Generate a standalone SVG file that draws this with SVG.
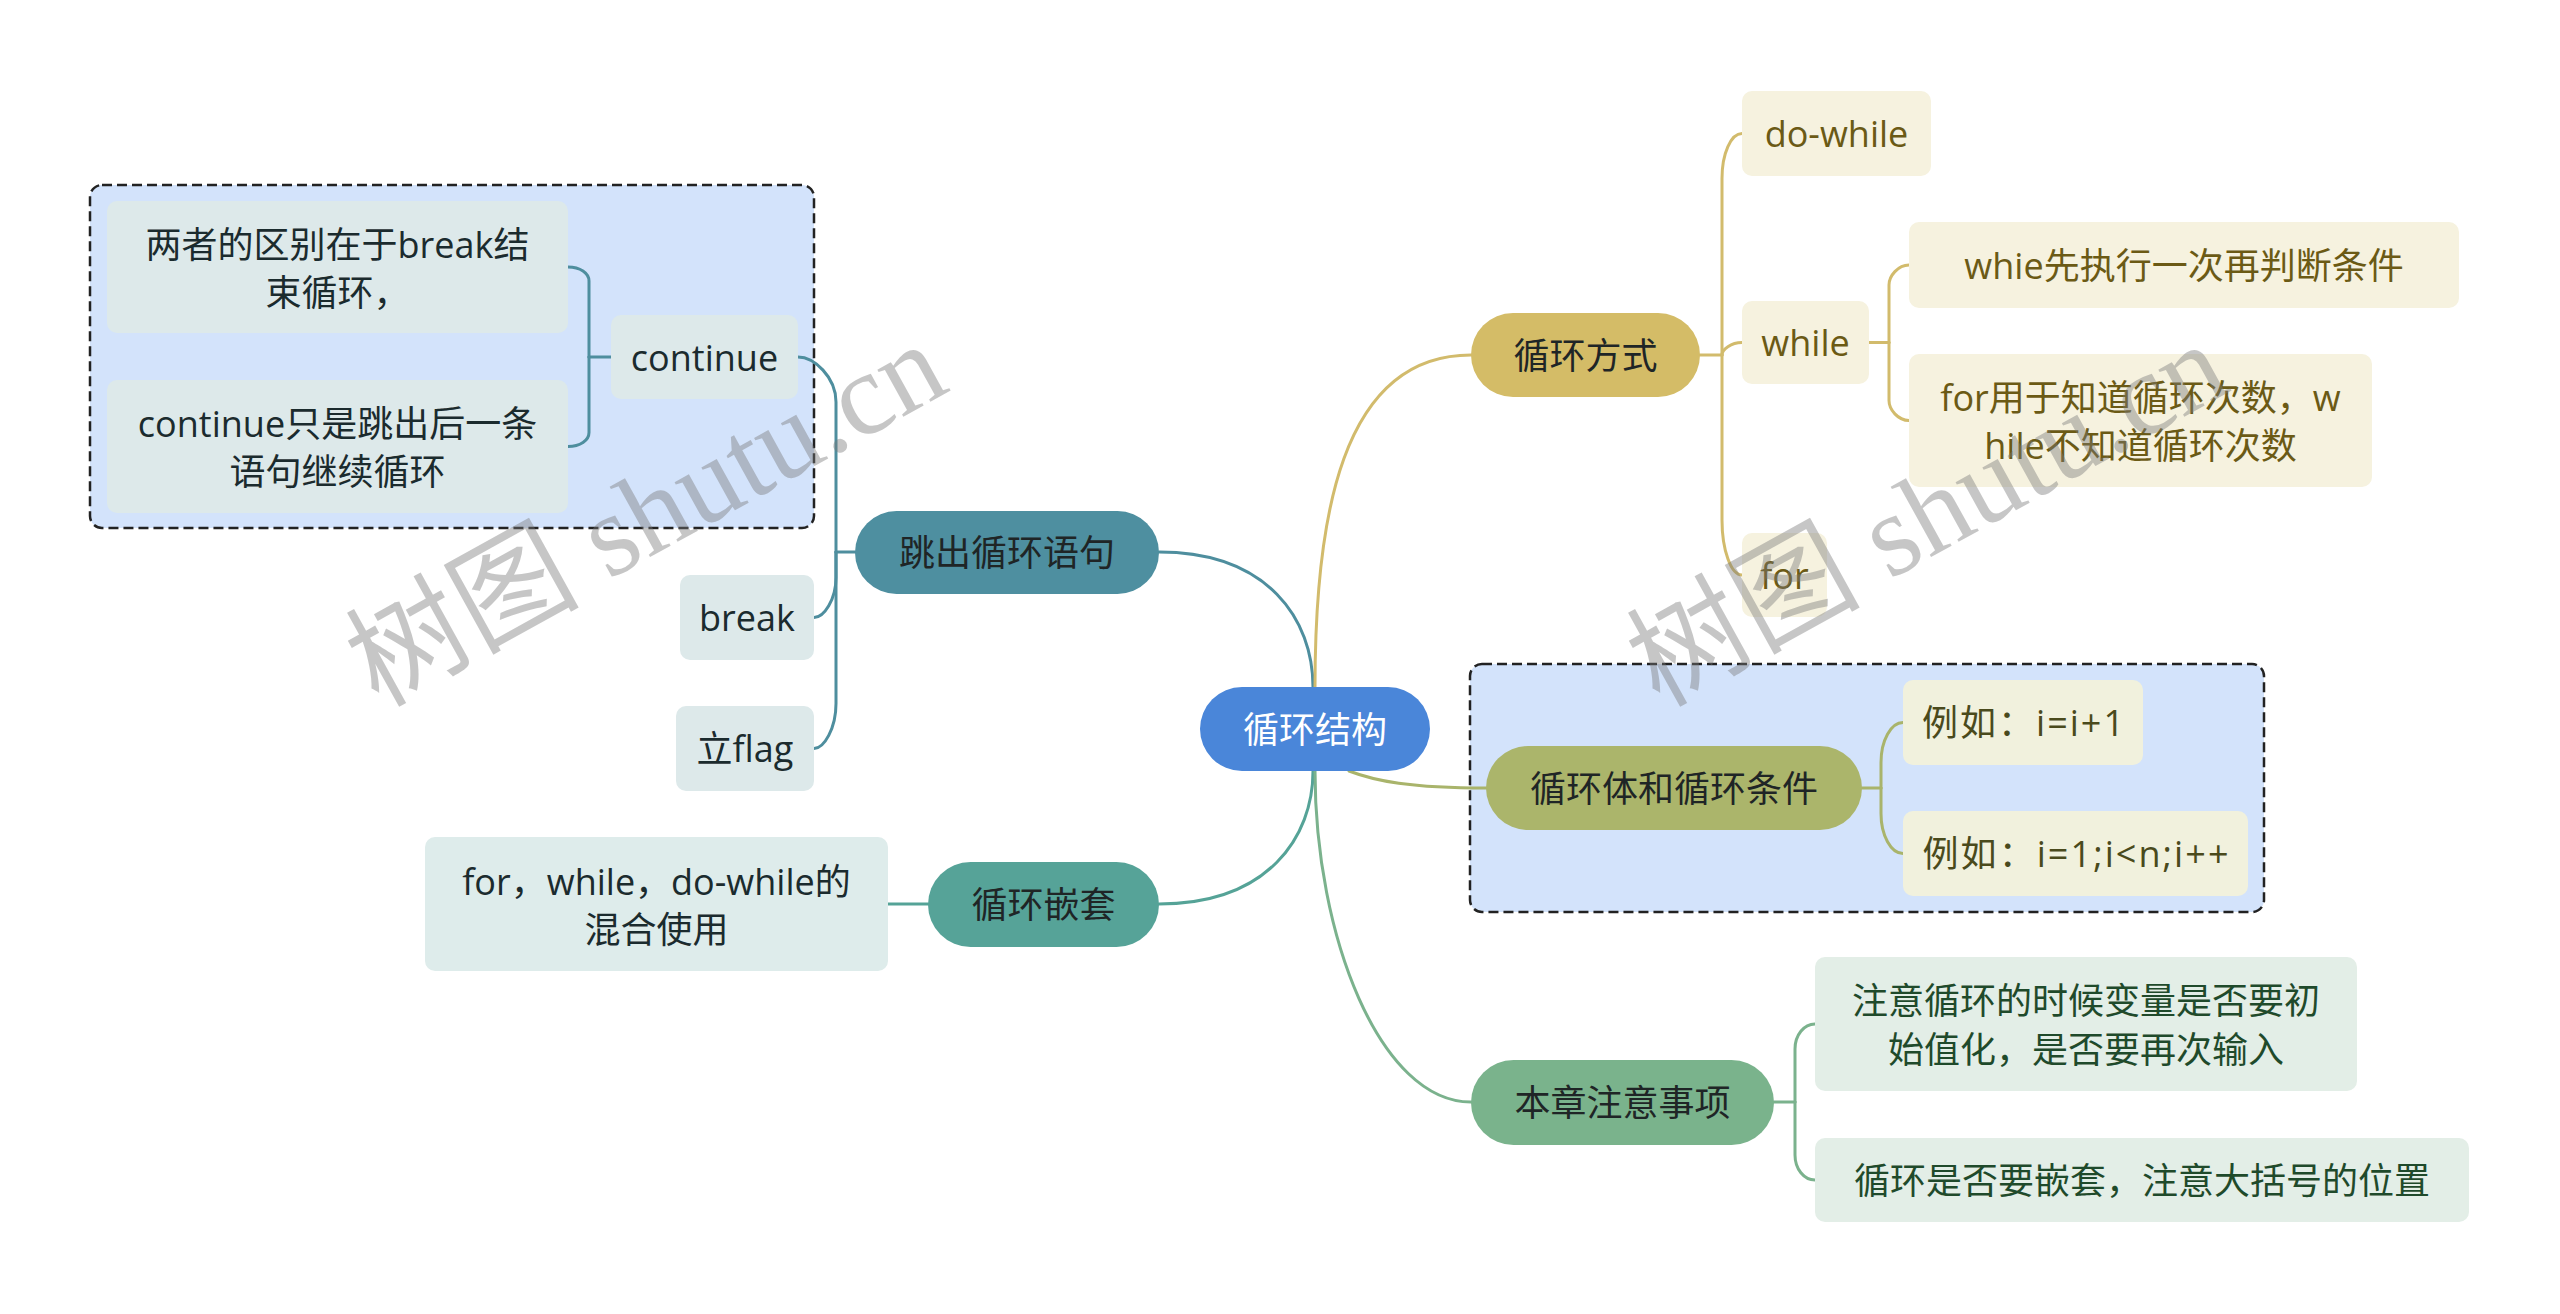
<svg xmlns="http://www.w3.org/2000/svg" width="2560" height="1314" viewBox="0 0 2560 1314">
<style>
.t{font-family:"Open Sans","Noto Sans CJK SC",sans-serif;font-size:36px;text-anchor:middle;dominant-baseline:central}
.dk{fill:#1f2526}
.wt{fill:#ffffff}
.ty{fill:#6b5a15}
.to{fill:#4a4a1c}
.tg{fill:#1f4a2b}
.tt{fill:#1b2b2e}
.box{fill:#d3e3fb;stroke:#222;stroke-width:2.5;stroke-dasharray:10 5}
.c{fill:none;stroke-width:3;stroke-linecap:round}
.cb{stroke:#4e8e9e}
.cn{stroke:#55a397}
.cy{stroke:#d2bb6c}
.co{stroke:#a9b46b}
.cg{stroke:#7bb28d}
.lt{fill:#dde9ea}
.ly{fill:#f6f2df}
.lo{fill:#f1f1dd}
.lg{fill:#e3eee7}
.wm{font-family:"Liberation Serif","Noto Sans CJK SC",serif;font-size:117px;fill:#7a7a7a;opacity:0.42}
</style>
<rect width="2560" height="1314" fill="#ffffff"/>
<g id="boundaries">
<rect class="box" x="90" y="185" width="724" height="343" rx="12"/>
<rect class="box" x="1470" y="664" width="794" height="248" rx="12"/>
</g>
<g id="connectors">
<path class="c cb" d="M1313,687 C1313,619.5 1268,552 1159,552"/>
<path class="c cn" d="M1313,771 C1313,837 1268,904 1159,904"/>
<path class="c cy" d="M1315,687 C1315,521 1340,355 1471,355"/>
<path class="c cg" d="M1315,771 C1315,936 1380,1102 1471,1102"/>
<path class="c co" d="M1349,771 C1375,781 1410,788 1486,788"/>
<path class="c cn" d="M928,904 H888"/>
<path class="c cb" d="M855,552 H836"/>
<path class="c cb" d="M836,552 V402 C836,377 814,357 798,357"/>
<path class="c cb" d="M836,552 V577.5 C836,599.5 824,617.5 814,617.5"/>
<path class="c cb" d="M836,552 V703.5 C836,728.5 824,748.5 814,748.5"/>
<path class="c cb" d="M611,357 H589"/>
<path class="c cb" d="M589,357 V281 C589,273 580,267 568,267"/>
<path class="c cb" d="M589,357 V432.5 C589,440.5 580,446.5 568,446.5"/>
<path class="c cy" d="M1700,355 H1722"/>
<path class="c cy" d="M1722,355 V178.5 C1722,153.5 1731,133.5 1742,133.5"/>
<path class="c cy" d="M1722,355 C1722,349.5 1731,342.5 1742,342.5"/>
<path class="c cy" d="M1722,355 V520 C1722,550 1731,575 1742,575"/>
<path class="c cy" d="M1869,342.5 H1889"/>
<path class="c cy" d="M1889,342.5 V285 C1889,276 1898,265 1909,265"/>
<path class="c cy" d="M1889,342.5 V400.5 C1889,409.5 1898,420.5 1909,420.5"/>
<path class="c co" d="M1862,788 H1881"/>
<path class="c co" d="M1881,788 V762.5 C1881,740.5 1891,722.5 1903,722.5"/>
<path class="c co" d="M1881,788 V813.5 C1881,835.5 1891,853.5 1903,853.5"/>
<path class="c cg" d="M1774,1102 H1795"/>
<path class="c cg" d="M1795,1102 V1049 C1795,1035 1804,1024 1815,1024"/>
<path class="c cg" d="M1795,1102 V1155 C1795,1169 1804,1180 1815,1180"/>
</g>
<g id="root">
<rect x="1200" y="687" width="230" height="84" rx="42" fill="#4a86d9"/>
<text class="t wt" x="1315" y="729">循环结构</text>
</g>
<g id="n-jump">
<rect x="855" y="511" width="304" height="83" rx="41.5" fill="#4e8fa0"/>
<text class="t dk" x="1007" y="552.5">跳出循环语句</text>
</g>
<g id="n-continue">
<rect x="611" y="315" width="187" height="84" rx="10" class="lt"/>
<text class="t tt" x="704.5" y="357">continue</text>
</g>
<g id="n-diff1">
<rect x="107" y="201" width="461" height="132" rx="10" class="lt"/>
<text class="t tt" x="337.5" y="244">两者的区别在于break结</text>
<text class="t tt" x="337.5" y="292">束循环，</text>
</g>
<g id="n-diff2">
<rect x="107" y="380" width="461" height="133" rx="10" class="lt"/>
<text class="t tt" x="337.5" y="423.5">continue只是跳出后一条</text>
<text class="t tt" x="337.5" y="471.5">语句继续循环</text>
</g>
<g id="n-break">
<rect x="680" y="575" width="134" height="85" rx="10" class="lt"/>
<text class="t tt" x="747" y="617.5">break</text>
</g>
<g id="n-flag">
<rect x="676" y="706" width="138" height="85" rx="10" class="lt"/>
<text class="t tt" x="745" y="748.5">立flag</text>
</g>
<g id="n-nest">
<rect x="928" y="862" width="231" height="85" rx="42.5" fill="#56a398"/>
<text class="t dk" x="1043.5" y="904.5">循环嵌套</text>
</g>
<g id="n-mix">
<rect x="425" y="837" width="463" height="134" rx="10" fill="#deeceb"/>
<text class="t tt" x="656.5" y="881">for，while，do-while的</text>
<text class="t tt" x="656.5" y="929">混合使用</text>
</g>
<g id="n-mode">
<rect x="1471" y="313" width="229" height="84" rx="42" fill="#d4bc67"/>
<text class="t dk" x="1585.5" y="355">循环方式</text>
</g>
<g id="n-dowhile">
<rect x="1742" y="91" width="189" height="85" rx="10" class="ly"/>
<text class="t ty" x="1836.5" y="133.5">do-while</text>
</g>
<g id="n-while">
<rect x="1742" y="301" width="127" height="83" rx="10" class="ly"/>
<text class="t ty" x="1805.5" y="342.5">while</text>
</g>
<g id="n-whie">
<rect x="1909" y="222" width="550" height="86" rx="10" class="ly"/>
<text class="t ty" x="2184" y="265">whie先执行一次再判断条件</text>
</g>
<g id="n-forknow">
<rect x="1909" y="354" width="463" height="133" rx="10" class="ly"/>
<text class="t ty" x="2140.5" y="397">for用于知道循环次数，w</text>
<text class="t ty" x="2140.5" y="445">hile不知道循环次数</text>
</g>
<g id="n-for">
<rect x="1742" y="533" width="85" height="84" rx="10" class="ly"/>
<text class="t ty" x="1784.5" y="575">for</text>
</g>
<g id="n-body">
<rect x="1486" y="746" width="376" height="84" rx="42" fill="#abb56b"/>
<text class="t dk" x="1674" y="788">循环体和循环条件</text>
</g>
<g id="n-eg1">
<rect x="1903" y="680" width="240" height="85" rx="10" class="lo"/>
<text class="t to" x="2023" y="722.5" textLength="202" lengthAdjust="spacing">例如：i=i+1</text>
</g>
<g id="n-eg2">
<rect x="1903" y="811" width="345" height="85" rx="10" class="lo"/>
<text class="t to" x="2075.5" y="853.5" textLength="306" lengthAdjust="spacing">例如：i=1;i&lt;n;i++</text>
</g>
<g id="n-note">
<rect x="1471" y="1060" width="303" height="85" rx="42.5" fill="#7ab38c"/>
<text class="t dk" x="1622.5" y="1102.5">本章注意事项</text>
</g>
<g id="n-note1">
<rect x="1815" y="957" width="542" height="134" rx="10" class="lg"/>
<text class="t tg" x="2086" y="1000">注意循环的时候变量是否要初</text>
<text class="t tg" x="2086" y="1049">始值化，是否要再次输入</text>
</g>
<g id="n-note2">
<rect x="1815" y="1138" width="654" height="84" rx="10" class="lg"/>
<text class="t tg" x="2142" y="1180">循环是否要嵌套，注意大括号的位置</text>
</g>
<g id="watermarks">
<text class="wm" transform="translate(378,708) rotate(-29)">树图 shutu.cn</text>
<text class="wm" transform="translate(1659,708) rotate(-29)">树图 shutu.cn</text>
</g>
</svg>
